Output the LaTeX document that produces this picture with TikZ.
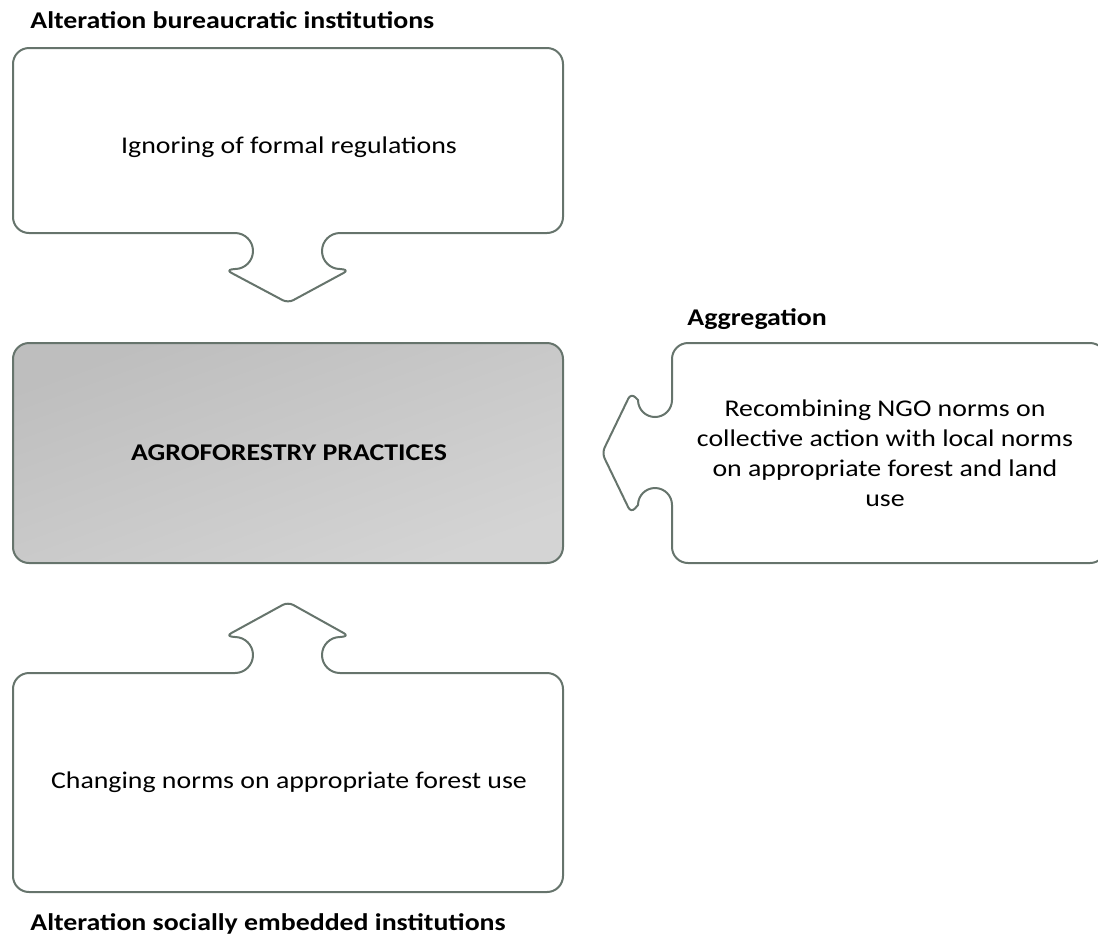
\documentclass[tikz,border=0pt]{standalone}
\usepackage{fontspec}
\setmainfont{Carlito}[FakeStretch=1.16]
\definecolor{edge}{RGB}{102,116,108}
\definecolor{shadeA}{RGB}{190,190,190}
\definecolor{shadeB}{RGB}{212,212,212}
\begin{document}
\begin{tikzpicture}[x=0.5pt,y=-0.5pt,
  outline/.style={draw=edge,line width=1pt,line join=round},
  callout/.style={outline,fill=white},
  head/.style={font=\fontsize{12}{15}\selectfont\bfseries,inner sep=0pt},
  body/.style={font=\fontsize{12}{15}\selectfont,align=center,inner sep=0pt}]
\useasboundingbox (0,0) rectangle (1098,934);

% top callout, pointing down
\draw[callout] (29,48) -- (547,48) arc[start angle=-90,end angle=0,radius=16]
  -- (563,217) arc[start angle=0,end angle=90,radius=16]
  -- (340,233) arc[start angle=-90,end angle=-270,radius=18]
  [rounded corners=3] -- (349,270) -- (288,303) -- (226,270) [sharp corners] -- (235,269)
  arc[start angle=90,end angle=-90,radius=18]
  -- (29,233) arc[start angle=90,end angle=180,radius=16]
  -- (13,64) arc[start angle=180,end angle=270,radius=16] -- cycle;

% centre box
\draw[outline,rounded corners=8pt,top color=shadeA,bottom color=shadeB,shading angle=20]
  (13,343) rectangle (563,563);

% bottom callout, pointing up
\draw[callout] (29,673) -- (235,673) arc[start angle=90,end angle=-90,radius=18]
  [rounded corners=3] -- (226,636) -- (288,602) -- (349,636) [sharp corners] -- (340,637)
  arc[start angle=-90,end angle=-270,radius=18]
  -- (547,673) arc[start angle=-90,end angle=0,radius=16]
  -- (563,876) arc[start angle=0,end angle=90,radius=16]
  -- (29,892) arc[start angle=90,end angle=180,radius=16]
  -- (13,689) arc[start angle=180,end angle=270,radius=16] -- cycle;

% right callout, pointing left
\draw[callout] (688,343) -- (1090,343) arc[start angle=-90,end angle=0,radius=16]
  -- (1106,547) arc[start angle=0,end angle=90,radius=16]
  -- (688,563) arc[start angle=90,end angle=180,radius=16]
  -- (672,505) arc[start angle=0,end angle=-180,radius=17]
  [rounded corners=3] -- (631,513) -- (602,453) -- (631,393) [sharp corners] -- (638,400)
  arc[start angle=180,end angle=0,radius=17]
  -- (672,359) arc[start angle=180,end angle=270,radius=16] -- cycle;

% texts
\node[head,anchor=base west] (lblTop) at (30,28) {Alteration bureaucratic institutions};
\node[head,anchor=base west] (lblAgg) at (687,325) {Aggregation};
\node[head,anchor=base west] (lblBot) at (30,930) {Alteration socially embedded institutions};

\node[body] (txtTop) at (289,147) {Ignoring of formal regulations};
\node[body,font=\fontsize{12}{15}\selectfont\bfseries] (txtMid) at (289,453) {AGROFORESTRY PRACTICES};
\node[body] (txtRight) at (885,453) {Recombining NGO norms on\\collective action with local norms\\on appropriate forest and land\\use};
\node[body] (txtBot) at (289,782) {Changing norms on appropriate forest use};
\end{tikzpicture}
\end{document}
